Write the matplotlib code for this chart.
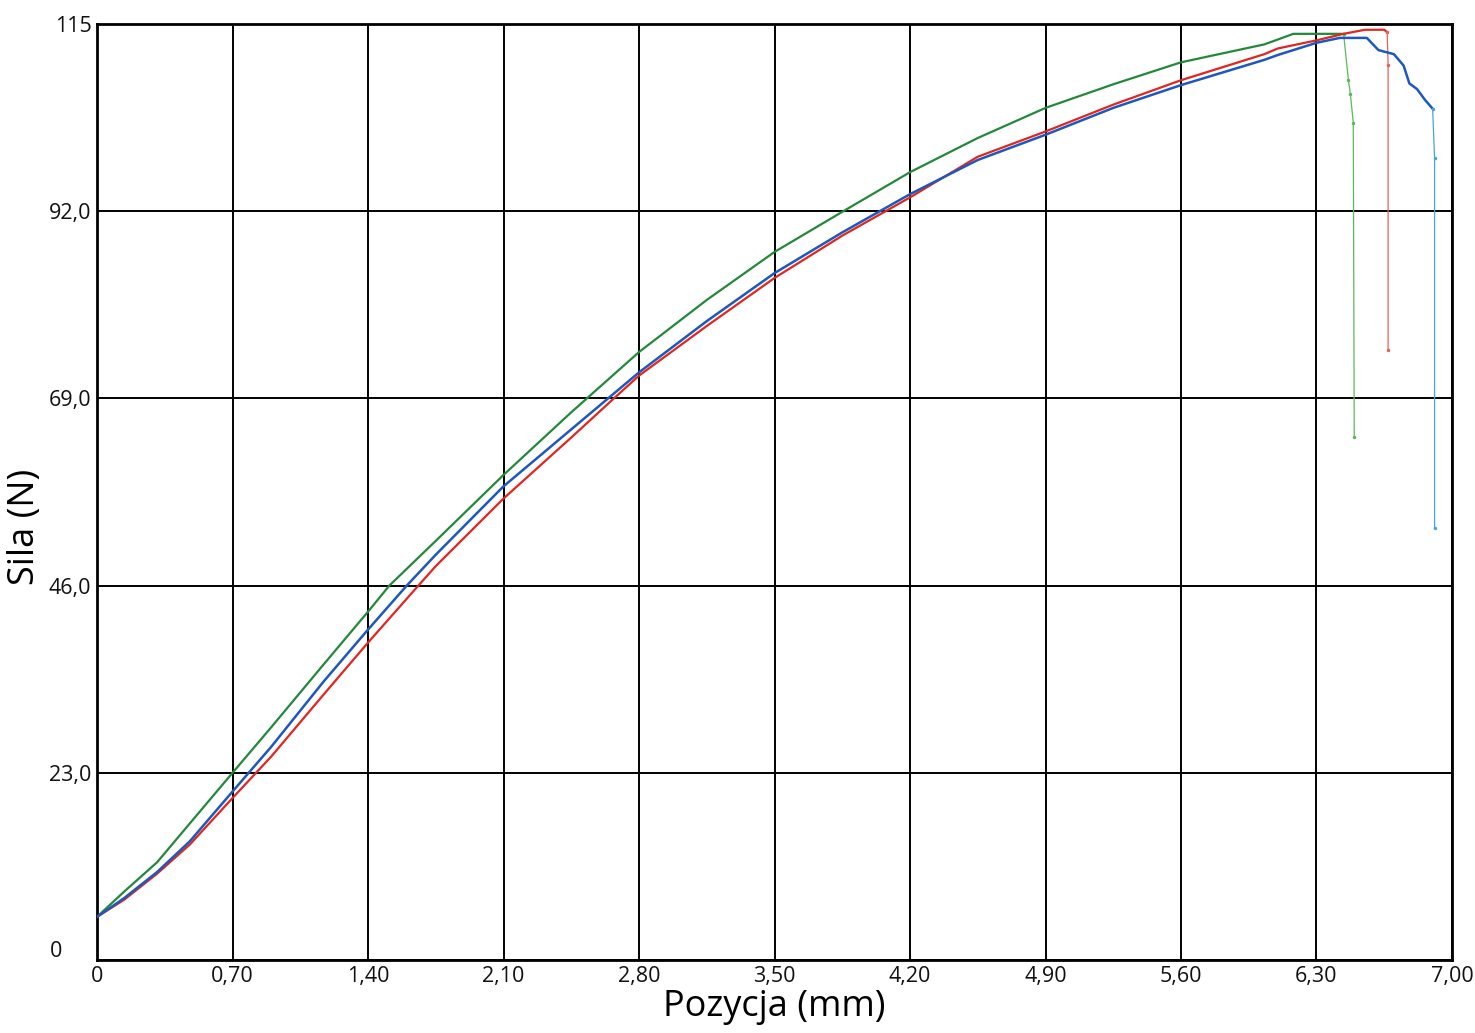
import matplotlib
matplotlib.use('Agg')
import matplotlib.pyplot as plt

# ---- ticks ----
x_ticks = [0, 0.70, 1.40, 2.10, 2.80, 3.50, 4.20, 4.90, 5.60, 6.30, 7.00]
x_tick_labels = ['0', '0,70', '1,40', '2,10', '2,80', '3,50', '4,20', '4,90', '5,60', '6,30', '7,00']
y_ticks = [0, 23, 46, 69, 92, 115]
y_tick_labels = ['', '23,0', '46,0', '69,0', '92,0', '115']

# ---- series ----
green_x = [0, 0.14, 0.31, 0.48, 0.70, 0.90, 1.17, 1.40, 1.51, 1.75, 2.10, 2.45,
           2.80, 3.15, 3.50, 3.855, 4.20, 4.55, 4.90, 5.25, 5.60, 6.03, 6.10, 6.18, 6.44]
green_y = [5.3, 8.4, 12.0, 16.8, 23.0, 28.6, 36.3, 42.8, 46.0, 51.5, 59.6, 67.3,
           74.7, 81.1, 87.0, 92.0, 96.8, 101.0, 104.7, 107.6, 110.3, 112.5, 113.1, 113.8, 113.8]
green_drop_x = [6.44, 6.465, 6.475, 6.49, 6.495]
green_drop_y = [113.8, 108.1, 106.4, 102.9, 64.2]

blue_x = [0, 0.14, 0.31, 0.48, 0.70, 0.90, 1.17, 1.40, 1.60, 1.75, 2.10, 2.45, 2.64, 2.80,
          3.15, 3.50, 3.85, 4.20, 4.55, 4.90, 5.25, 5.60, 6.03, 6.10, 6.30, 6.42,
          6.56, 6.62, 6.70, 6.75, 6.78, 6.82, 6.86, 6.90]
blue_y = [5.3, 7.6, 10.8, 14.6, 20.7, 26.2, 34.2, 40.6, 46.0, 49.8, 58.2, 65.2, 69.0, 72.2,
          78.5, 84.4, 89.4, 94.1, 98.3, 101.4, 104.7, 107.5, 110.6, 111.2, 112.7, 113.3,
          113.3, 111.8, 111.3, 109.9, 107.7, 107.0, 105.7, 104.6]
blue_drop_x = [6.90, 6.91, 6.91]
blue_drop_y = [104.6, 98.5, 53.1]

red_x = [0, 0.14, 0.31, 0.48, 0.70, 0.90, 1.17, 1.40, 1.66, 1.75, 2.10, 2.45, 2.67, 2.80,
         3.15, 3.50, 3.85, 4.20, 4.55, 4.90, 5.25, 5.60, 6.03, 6.10, 6.30, 6.44,
         6.55, 6.65, 6.665]
red_y = [5.3, 7.4, 10.6, 14.2, 19.9, 25.0, 32.6, 39.0, 46.0, 48.4, 56.7, 64.2, 69.0, 71.8,
         77.9, 83.8, 89.0, 93.7, 98.7, 101.8, 105.1, 108.1, 111.3, 112.0, 113.0, 113.8,
         114.3, 114.3, 114.0]
red_drop_x = [6.665, 6.67, 6.67]
red_drop_y = [114.0, 110.0, 75.0]

plt.rcParams['font.family'] = ['Open Sans', 'DejaVu Sans']

fig = plt.figure(figsize=(14.75, 10.33), dpi=100)
ax = fig.add_axes([0.0658, 0.0707, 0.9186, 0.906])

ax.set_xlim(0, 7.0)
ax.set_ylim(0, 115)
ax.set_xticks(x_ticks)
ax.set_xticklabels(x_tick_labels)
ax.set_yticks(y_ticks)
ax.set_yticklabels(y_tick_labels)
ax.tick_params(length=0, labelsize=15.5, colors='#111111', pad=4)
ax.grid(True, color='black', linewidth=1.4)
ax.set_axisbelow(True)
for s in ax.spines.values():
    s.set_linewidth(2.0)
    s.set_color('black')

ax.text(-0.026, 1.0, '0', transform=ax.get_yaxis_transform(), ha='right', va='center',
        fontsize=15.5, color='#111111')

GREEN = '#23883a'
BLUE = '#1d58bc'
RED = '#e0261f'

ax.plot(green_x, green_y, color=GREEN, lw=1.6, zorder=3)
ax.plot(red_x, red_y, color=RED, lw=1.6, zorder=4)
ax.plot(blue_x, blue_y, color=BLUE, lw=1.8, zorder=5)

ax.plot(green_drop_x, green_drop_y, color='#5cb85c', lw=0.9, marker='.', ms=3, zorder=3)
ax.plot(red_drop_x, red_drop_y, color='#e8605a', lw=0.9, marker='.', ms=3, zorder=4)
ax.plot(blue_drop_x, blue_drop_y, color='#4aa3d8', lw=0.9, marker='.', ms=3, zorder=5)

ax.set_xlabel('Pozycja (mm)', fontsize=26, labelpad=2)
ax.set_ylabel('Sila (N)', fontsize=26)
ax.yaxis.set_label_coords(-0.04, 0.463)

fig.savefig('out.png', dpi=100, facecolor='white')
